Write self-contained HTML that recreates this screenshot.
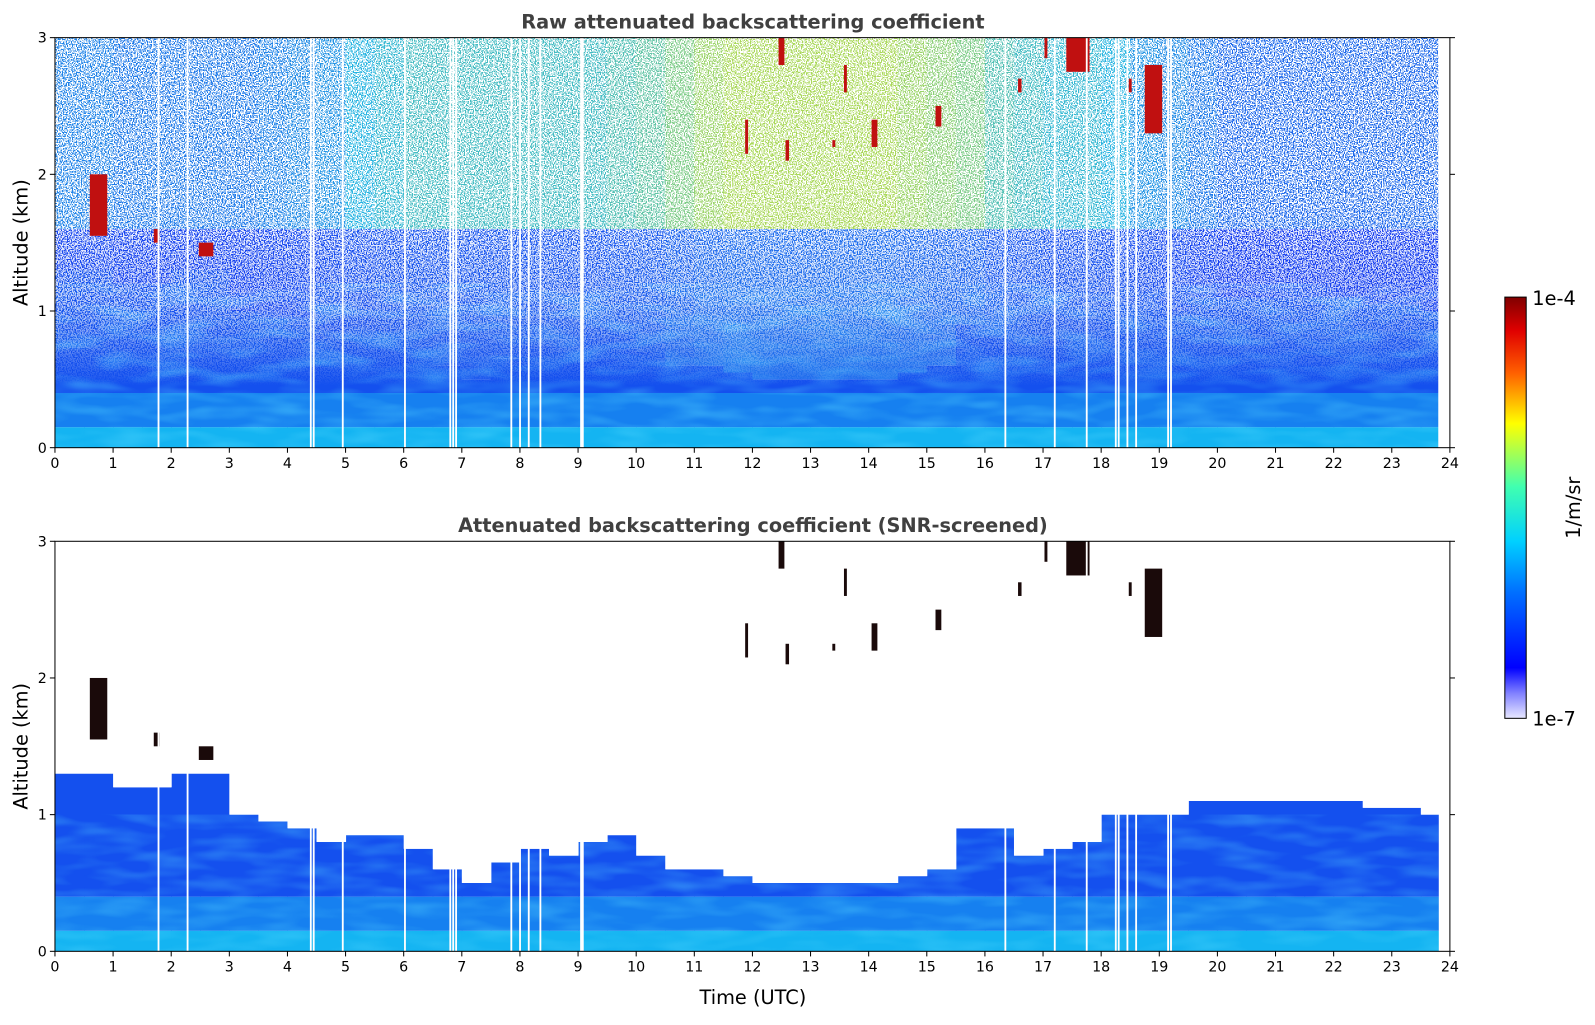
<!DOCTYPE html>
<html><head><meta charset="utf-8"><style>
body{margin:0;background:#fff;font-family:"Liberation Sans","DejaVu Sans",sans-serif}
svg text{font-family:"DejaVu Sans","Liberation Sans",sans-serif}
</style></head><body>
<svg id="s" width="1595" height="1020" viewBox="0 0 1567.6 1002.5" xmlns="http://www.w3.org/2000/svg">
<defs>
<filter id="spk" x="0" y="0" width="100%" height="100%">
<feTurbulence type="fractalNoise" baseFrequency="0.8" numOctaves="1" seed="3"/>
<feColorMatrix type="matrix" values="0 0 0 0 1  0 0 0 0 1  0 0 0 0 1  3 0 0 0 -0.95"/>
<feComponentTransfer><feFuncA type="discrete" tableValues="0 1"/></feComponentTransfer>
</filter>
<filter id="mott" x="0" y="0" width="100%" height="100%">
<feTurbulence type="fractalNoise" baseFrequency="0.02 0.08" numOctaves="2" seed="7"/>
<feColorMatrix type="matrix" values="0 0 0 0 0.1  0 0 0 0 0.7  0 0 0 0 1  1.4 0 0 0 -0.55"/>
</filter>
<linearGradient id="fadeG" x1="0" y1="1" x2="0" y2="0">
<stop offset="0" stop-color="#fff" stop-opacity="0"/>
<stop offset="0.15" stop-color="#fff" stop-opacity="0"/>
<stop offset="0.35" stop-color="#fff" stop-opacity="0.7"/>
<stop offset="0.6" stop-color="#fff" stop-opacity="1"/>
<stop offset="1" stop-color="#fff" stop-opacity="1"/>
</linearGradient>
<mask id="fadeM"><rect x="54" y="37" width="1371" height="403" fill="url(#fadeG)"/></mask>
<linearGradient id="cbG" x1="0" y1="1" x2="0" y2="0">
<stop offset="0" stop-color="#e8e8ff"/><stop offset="0.06" stop-color="#8080ff"/>
<stop offset="0.12" stop-color="#0000ff"/><stop offset="0.3" stop-color="#0070ff"/>
<stop offset="0.42" stop-color="#00d0ff"/><stop offset="0.55" stop-color="#40ffb0"/>
<stop offset="0.7" stop-color="#ffff00"/><stop offset="0.82" stop-color="#ff6000"/>
<stop offset="0.92" stop-color="#e00000"/><stop offset="1" stop-color="#800000"/>
</linearGradient>
<clipPath id="c1"><rect x="54" y="37" width="1371" height="403"/></clipPath>
<clipPath id="c2"><rect x="54" y="532" width="1371" height="403"/></clipPath>
</defs>
<g id="p1" clip-path="url(#c1)"></g>
<g id="p2" clip-path="url(#c2)"></g>
<g id="ax"></g>
</svg>
<script>
const times=[];for(let i=0;i<48;i++)times.push(i*0.5);
const blTop=[1.3,1.3,1.2,1.2,1.3,1.3,1.0,0.95,0.9,0.8,0.85,0.85,0.75,0.6,0.5,0.65,0.75,0.7,0.8,0.85,0.7,0.6,0.6,0.55,0.5,0.5,0.5,0.5,0.5,0.55,0.6,0.9,0.9,0.7,0.75,0.8,1.0,1.0,1.0,1.1,1.1,1.1,1.1,1.1,1.1,1.05,1.05,1.0];
const noise=[0.35,0.35,0.3,0.3,0.3,0.3,0.3,0.35,0.4,0.45,0.5,0.55,0.6,0.6,0.6,0.6,0.6,0.6,0.6,0.65,0.7,0.8,0.9,0.95,0.95,0.95,0.95,0.95,0.95,0.9,0.85,0.8,0.65,0.6,0.55,0.55,0.5,0.45,0.4,0.3,0.2,0.2,0.2,0.2,0.2,0.2,0.2,0.2];
const gapTimes=[1.78,2.28,4.4,4.45,4.95,6.02,6.8,6.85,6.9,7.85,8.0,8.15,8.35,9.05,9.08,16.35,17.2,17.75,18.25,18.3,18.45,18.6,19.15,19.2];
const cloudT=[0.75,1.75,2.6,11.9,12.5,12.6,13.4,13.6,14.1,15.2,16.6,17.6,17.05,18.9,18.5];
const cloudBase=[1.55,1.5,1.4,2.15,2.8,2.1,2.2,2.6,2.2,2.35,2.6,2.75,2.85,2.3,2.6];
const cloudTop=[2.0,1.6,1.5,2.4,3.0,2.25,2.25,2.8,2.4,2.5,2.7,3.0,3.0,2.8,2.7];
const cloudW=[0.3,0.1,0.25,0.05,0.1,0.06,0.05,0.05,0.1,0.1,0.06,0.4,0.05,0.3,0.05];
const dataEnd=23.8;
const NS='http://www.w3.org/2000/svg';
const X=t=>54+t*1371/24;
const Y1=a=>440-a*403/3, Y2=a=>935-a*403/3;
function mk(p,tag,at){const e=document.createElementNS(NS,tag);for(const k in at)e.setAttribute(k,at[k]);p.appendChild(e);return e;}
function lerp(c1,c2,f){return 'rgb('+c1.map((v,i)=>Math.round(v+(c2[i]-v)*f)).join(',')+')';}
const p1=document.getElementById('p1'),p2=document.getElementById('p2'),ax=document.getElementById('ax');
function drawBase(p,Y,screened){
 times.forEach((t,i)=>{
  const x0=X(t),x1=X(Math.min(t+0.5,dataEnd));if(x1<=x0)return;
  const bl=blTop[i];
  let r=mk(p,'rect',{x:x0,y:Y(0.15),width:x1-x0+0.5,height:Y(0)-Y(0.15),fill:'#14b4f2'});
  
  r=mk(p,'rect',{x:x0,y:Y(0.4),width:x1-x0+0.5,height:Y(0.15)-Y(0.4),fill:'#1680f0'});
  
  r=mk(p,'rect',{x:x0,y:Y(bl),width:x1-x0+0.5,height:Y(0.4)-Y(bl),fill:'#1450ee'});
  
  if(!screened){
   const n=noise[i];
   r=mk(p,'rect',{x:x0,y:Y(1.6),width:x1-x0+0.5,height:Y(bl)-Y(1.6),fill:lerp([20,50,240],[40,140,235],n*0.7)});
   
   r=mk(p,'rect',{x:x0,y:Y(3),width:x1-x0+0.5,height:Y(1.6)-Y(3),fill:n<0.5?lerp([25,70,240],[40,180,225],n*1.6):lerp([40,180,225],[200,225,60],(n-0.5)*1.8)});
   
  }
 });
}
drawBase(p1,Y1,false);
let mo=mk(p1,'rect',{x:54,y:Y1(1.2),width:X(dataEnd)-54,height:Y1(0)-Y1(1.2),fill:'#fff',filter:'url(#mott)',opacity:0.6});

let sp=mk(p1,'rect',{x:54,y:37,width:X(dataEnd)-54,height:403,fill:'#fff',filter:'url(#spk)',mask:'url(#fadeM)'});

mk(p1,'rect',{x:X(dataEnd),y:37,width:1425-X(dataEnd),height:403,fill:'#fff'});
drawBase(p2,Y2,true);
let mo2=mk(p2,'rect',{x:54,y:Y2(1.0),width:X(dataEnd)-54,height:Y2(0)-Y2(1.0),fill:'#fff',filter:'url(#mott)',opacity:0.5});

[[p1,Y1],[p2,Y2]].forEach(([p,Y],k)=>{
 if(k===1){
  times.forEach((t,i)=>{
   const r=mk(p,'rect',{x:X(t),y:Y(3),width:X(t+0.5)-X(t)+0.5,height:Y(blTop[i])-Y(3),fill:'#fff'});
   
  });
 }
 cloudT.forEach((t,i)=>{
  const r=mk(p,'rect',{x:X(t-cloudW[i]/2),y:Y(cloudTop[i]),width:Math.max(2,cloudW[i]*1371/24),height:Y(cloudBase[i])-Y(cloudTop[i]),fill:k?'#1a0a0a':'#c01010'});
  
 });
 gapTimes.forEach(t=>{
  const r=mk(p,'rect',{x:X(t)-0.8,y:Y(3),width:1.8,height:403,fill:'#fff'});
  
 });
});
function axes(top,bot,title,xlabel){
 const Y=a=>bot-a*403/3;
 let f=mk(ax,'rect',{x:54,y:top,width:1371,height:403,fill:'none',stroke:'#000','stroke-width':1});
 
 for(let t=0;t<=24;t++){
  mk(ax,'line',{x1:X(t),x2:X(t),y1:bot,y2:bot+5,stroke:'#000'});
  const tx=mk(ax,'text',{x:X(t),y:bot+20,'text-anchor':'middle','font-size':14});tx.textContent=t;
  
 }
 for(let a=0;a<=3;a++){
  mk(ax,'line',{x1:49,x2:54,y1:Y(a),y2:Y(a),stroke:'#000'});
  mk(ax,'line',{x1:1425,x2:1430,y1:Y(a),y2:Y(a),stroke:'#000'});
  const tx=mk(ax,'text',{x:46,y:Y(a)+5,'text-anchor':'end','font-size':14});tx.textContent=a;
  
 }
 let t=mk(ax,'text',{x:740,y:top-9,'text-anchor':'middle','font-size':19,'font-weight':'bold',fill:'#404040'});t.textContent=title;
 
 t=mk(ax,'text',{x:27,y:(top+bot)/2,'text-anchor':'middle','font-size':19,transform:`rotate(-90 27 ${(top+bot)/2})`});t.textContent='Altitude (km)';
 
 if(xlabel){t=mk(ax,'text',{x:740,y:bot+52,'text-anchor':'middle','font-size':19});t.textContent=xlabel;
 }
}
axes(37,440,'Raw attenuated backscattering coefficient');
axes(532,935,'Attenuated backscattering coefficient (SNR-screened)','Time (UTC)');
let cb=mk(ax,'rect',{x:1479,y:292,width:21,height:414,fill:'url(#cbG)',stroke:'#000'});

let l=mk(ax,'text',{x:1506,y:300,'font-size':19});l.textContent='1e-4';
l=mk(ax,'text',{x:1506,y:713,'font-size':19});l.textContent='1e-7';
l=mk(ax,'text',{x:1553,y:499,'font-size':19,'text-anchor':'middle',transform:'rotate(-90 1553 499)'});l.textContent='1/m/sr';

</script>
</body></html>
